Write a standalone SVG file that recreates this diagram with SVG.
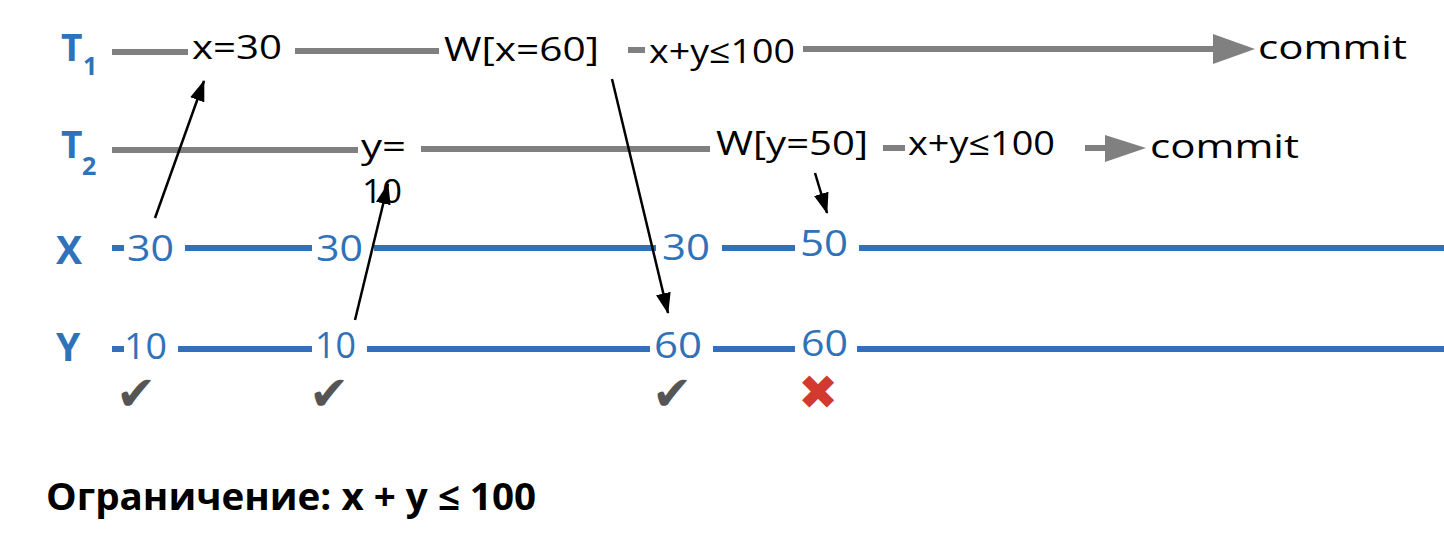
<svg xmlns="http://www.w3.org/2000/svg" width="1444" height="540" viewBox="0 0 1444 540">
<style>
.bg{fill:#ffffff}
.tl{stroke:#808080;stroke-width:6;fill:none}
.bl{stroke:#2f72b9;stroke-width:6;fill:none}
.ah{fill:#808080}
.t{font-family:"Open Sans","Liberation Sans",sans-serif;font-size:33px;fill:#000000}
.v{font-family:"Open Sans","Liberation Sans",sans-serif;font-size:37px;fill:#2f72b9}
.lab{font-family:"Open Sans","Liberation Sans",sans-serif;font-weight:bold;fill:#2f72b9}
.arr{stroke:#000000;stroke-width:2.5;fill:none}
.ok{font-family:"DejaVu Sans",sans-serif;font-size:48px;fill:#555555}
.no{font-family:"DejaVu Sans",sans-serif;font-size:48px;fill:#d23a30}
.note{font-family:"Open Sans","Liberation Sans",sans-serif;font-weight:bold;font-size:37px;fill:#000000}
</style>
<defs>
<marker id="hb" markerWidth="21" markerHeight="15" refX="20" refY="7.5" orient="auto" markerUnits="userSpaceOnUse" viewBox="0 0 21 15">
<path d="M0,0 L21,7.5 L0,15 Z" fill="#000000"/>
</marker>
</defs>
<rect class="bg" x="0" y="0" width="1444" height="540"/>

<g id="labels">
<g id="label-t1"><text class="lab" x="61" y="61" font-size="37">T</text><text class="lab" x="83" y="75" font-size="25">1</text></g>
<g id="label-t2"><text class="lab" x="61" y="158" font-size="37">T</text><text class="lab" x="82" y="175" font-size="25">2</text></g>
<g id="label-x"><text class="lab" x="56" y="264" font-size="39">X</text></g>
<g id="label-y"><text class="lab" x="56" y="361" font-size="39">Y</text></g>
</g>

<g id="timelines">
<line class="tl" x1="112" y1="52" x2="188" y2="52"/>
<line class="tl" x1="295" y1="51" x2="439" y2="51"/>
<line class="tl" x1="628" y1="50" x2="645" y2="50"/>
<line class="tl" x1="803" y1="49" x2="1216" y2="49"/>
<polygon class="ah" points="1213,34 1255,49 1213,64"/>
<line class="tl" x1="112" y1="150" x2="358" y2="150"/>
<line class="tl" x1="421" y1="149" x2="710" y2="149"/>
<line class="tl" x1="883" y1="148" x2="905" y2="148"/>
<line class="tl" x1="1085" y1="148" x2="1108" y2="148"/>
<polygon class="ah" points="1105,135 1146,148 1105,162"/>
<line class="bl" x1="112" y1="248" x2="124" y2="248"/>
<line class="bl" x1="185" y1="248" x2="312" y2="248"/>
<line class="bl" x1="374" y1="248" x2="656" y2="248"/>
<line class="bl" x1="722" y1="248" x2="795" y2="248"/>
<line class="bl" x1="859" y1="248" x2="1444" y2="248"/>
<line class="bl" x1="112" y1="349" x2="124" y2="349"/>
<line class="bl" x1="178" y1="349" x2="312" y2="349"/>
<line class="bl" x1="367" y1="349" x2="650" y2="349"/>
<line class="bl" x1="713" y1="349" x2="795" y2="349"/>
<line class="bl" x1="857" y1="349" x2="1444" y2="349"/>
</g>

<g id="t1-ops">
<g id="t1-read-x"><text class="t" x="192" y="59" textLength="90" lengthAdjust="spacingAndGlyphs">x=30</text></g>
<g id="t1-write-x"><text class="t" x="444" y="61" font-size="35" textLength="155" lengthAdjust="spacingAndGlyphs">W[x=60]</text></g>
<g id="t1-check"><text class="t" x="649" y="63" textLength="146" lengthAdjust="spacingAndGlyphs">x+y≤100</text></g>
<g id="t1-commit"><text class="t" x="1258" y="59" textLength="149" lengthAdjust="spacingAndGlyphs">commit</text></g>
</g>

<g id="t2-ops">
<g id="t2-read-y"><text class="t" x="361" y="158" textLength="45" lengthAdjust="spacingAndGlyphs">y=</text><text class="t" x="362" y="203" textLength="40" lengthAdjust="spacingAndGlyphs">10</text></g>
<g id="t2-write-y"><text class="t" x="716" y="155" font-size="35" textLength="152" lengthAdjust="spacingAndGlyphs">W[y=50]</text></g>
<g id="t2-check"><text class="t" x="908" y="155" textLength="147" lengthAdjust="spacingAndGlyphs">x+y≤100</text></g>
<g id="t2-commit"><text class="t" x="1150" y="158" textLength="149" lengthAdjust="spacingAndGlyphs">commit</text></g>
</g>

<g id="values">
<text class="v" x="127" y="261" textLength="47" lengthAdjust="spacingAndGlyphs">30</text>
<text class="v" x="316" y="261" textLength="47" lengthAdjust="spacingAndGlyphs">30</text>
<text class="v" x="662" y="260" textLength="48" lengthAdjust="spacingAndGlyphs">30</text>
<text class="v" x="800" y="256" textLength="48" lengthAdjust="spacingAndGlyphs">50</text>
<text class="v" x="124" y="359" textLength="43" lengthAdjust="spacingAndGlyphs">10</text>
<text class="v" x="315" y="358" textLength="41" lengthAdjust="spacingAndGlyphs">10</text>
<text class="v" x="654" y="358" textLength="48" lengthAdjust="spacingAndGlyphs">60</text>
<text class="v" x="801" y="356" textLength="47" lengthAdjust="spacingAndGlyphs">60</text>
</g>

<g id="connectors">
<line class="arr" x1="155" y1="218" x2="204" y2="81" marker-end="url(#hb)"/>
<line class="arr" x1="355" y1="320" x2="388" y2="184" marker-end="url(#hb)"/>
<line class="arr" x1="612" y1="79" x2="668" y2="313" marker-end="url(#hb)"/>
<line class="arr" x1="815" y1="173" x2="827" y2="213" marker-end="url(#hb)"/>
</g>

<g id="marks">
<text class="ok" x="116" y="410">✔</text>
<text class="ok" x="309" y="410">✔</text>
<text class="ok" x="652" y="410">✔</text>
<text class="no" x="798" y="409">✖</text>
</g>

<g id="note">
<text class="note" x="46" y="510" textLength="490" lengthAdjust="spacingAndGlyphs">Ограничение: x + y ≤ 100</text>
</g>
</svg>
